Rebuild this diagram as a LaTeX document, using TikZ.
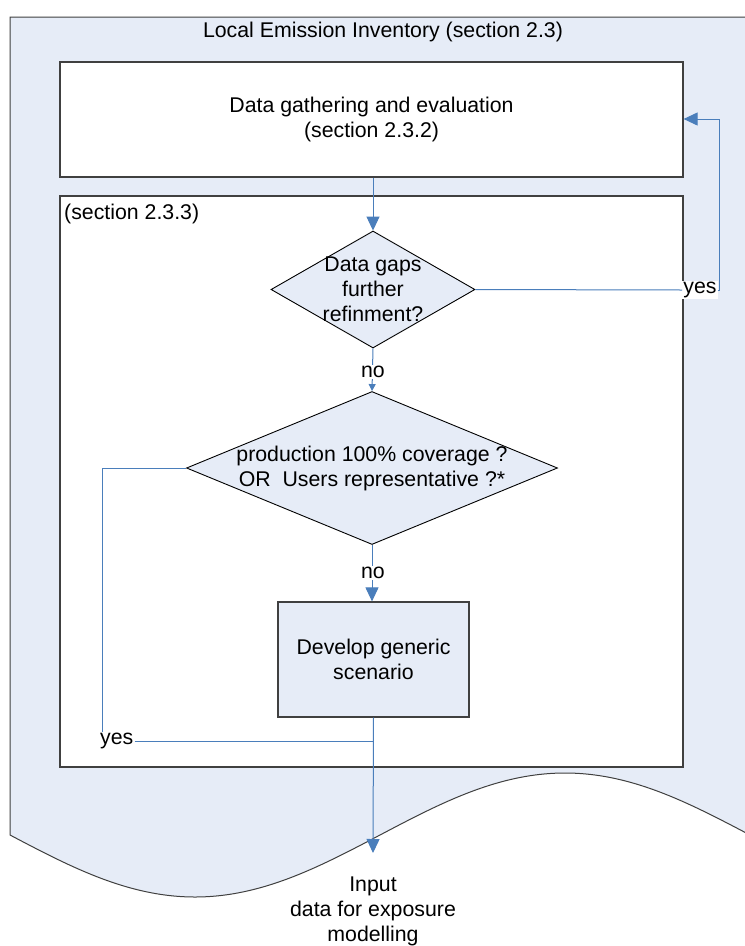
\documentclass[tikz,border=0pt]{standalone}
\usepackage{fontspec}
\setmainfont{Liberation Sans}
\usetikzlibrary{shapes.geometric,arrows.meta}
\definecolor{shapefill}{HTML}{E6ECF7}
\definecolor{conncol}{HTML}{4A7EBB}
\definecolor{edgecol}{HTML}{404040}
\newcommand{\dfont}{\fontsize{21.3}{25}\selectfont}
\begin{document}
\begin{tikzpicture}[x=1pt,y=-1pt,
  txt/.style={font=\dfont, align=center, inner sep=0pt},
  boxw/.style={draw=edgecol, line width=1.2pt, fill=white},
  boxb/.style={draw=edgecol, line width=1.2pt, fill=shapefill},
  dia/.style={diamond, draw=black, line width=0.9pt, fill=shapefill, inner sep=0pt},
  conn/.style={draw=conncol, line width=1pt},
  bigtip/.style={-{Triangle[length=14pt,width=13pt]}},
  smalltip/.style={-{Triangle[length=7pt,width=7pt]}},
  lab/.style={font=\dfont, fill=white, inner sep=1pt}
]
\useasboundingbox (0,0) rectangle (745,946);
\clip (0,0) rectangle (745,946);
\fill[white] (0,0) rectangle (745,946);
% outer document shape
\draw[fill=shapefill, draw=edgecol, line width=1pt]
  (10,835) sin (195,897) cos (380,835) sin (565,773) cos (750,835)
  -- (760,835) -- (760,17) -- (10,17) -- cycle;
\node[txt, anchor=base] (title) at (383,37) {Local Emission Inventory (section 2.3)};
% data box
\node[boxw, txt, minimum width=623pt, minimum height=115pt] (data) at (371.5,119.5)
  {Data gathering and evaluation\\(section 2.3.2)};
% inner box
\node[boxw, minimum width=623pt, minimum height=571pt] (inner) at (371.5,481.5) {};
\node[txt, anchor=west] (sec) at (64,214) {(section 2.3.3)};
% diamonds
\node[dia, minimum width=204pt, minimum height=117pt,
  label={[txt,name=d1t]center:Data gaps\\further\\refinment?}] (d1) at (373,289.5) {};
\node[dia, minimum width=371pt, minimum height=153pt,
  label={[txt,name=d2t]center:production 100\% coverage ?\\OR\ \ Users representative ?*}] (d2) at (372,468) {};
% develop box
\node[boxb, txt, minimum width=191pt, minimum height=115pt] (dev) at (373.5,659.5)
  {Develop generic\\scenario};
% output text
\node[txt] (input) at (373,911) {Input\\data for exposure\\modelling};
\coordinate (endtip) at (373,853);
\coordinate (rtop) at (719,119);
\coordinate (lcorner) at (102,468);
% labels
\node[lab] (yes1) at (700,290) {yes};
\node[lab, anchor=west] (yes2) at (99,741) {yes};
% connectors
\draw[conn, bigtip] (data.south -| d1.north) -- (d1.north);
\draw[conn] (d1.east) -- (yes1.west);
\draw[conn, bigtip] (yes1.east) -| (rtop) -- (data.east |- rtop);
\draw[conn, smalltip] (d1.south) -- (d2.north);
\draw[conn, bigtip] (d2.south) -- (d2.south |- dev.north);
\draw[conn] (d2.west) -- (lcorner) -- (lcorner |- yes2.north);
\draw[conn] (yes2.east) -- (yes2.east -| dev.south);
\draw[conn, bigtip] (dev.south) -- (endtip);
% no labels on top
\node[lab] (no1) at (373,372) {no};
\node[lab] (no2) at (373,573) {no};
\end{tikzpicture}
\end{document}
